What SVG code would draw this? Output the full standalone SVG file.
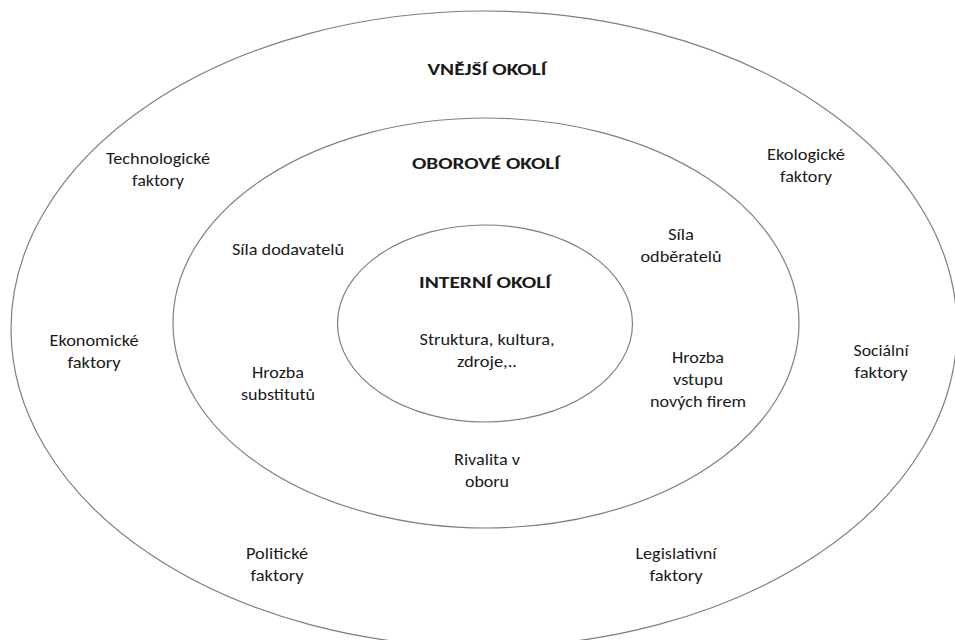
<svg xmlns="http://www.w3.org/2000/svg" width="955" height="640" viewBox="0 0 955 640">
  <style>
    .ring { fill: none; stroke: #7f7f7f; stroke-width: 1.2; }
    text { font-family: Carlito, Lato, "Liberation Sans", sans-serif; font-size: 16px; fill: #1a1a1a; text-anchor: middle; }
    .title { font-weight: bold; font-size: 16.5px; }
  </style>
  <rect width="955" height="640" fill="#ffffff"/>

  <!-- concentric environment rings -->
  <g id="rings">
    <ellipse id="outer-ring" class="ring" cx="484" cy="329" rx="473" ry="318"/>
    <ellipse id="middle-ring" class="ring" cx="486" cy="323" rx="313" ry="205"/>
    <ellipse id="inner-ring" class="ring" cx="485" cy="323.5" rx="147.5" ry="98.5"/>
  </g>

  <!-- outer environment -->
  <g id="vnejsi-okoli"><text class="title" x="487" y="75" textLength="119" lengthAdjust="spacingAndGlyphs">VNĚJŠÍ OKOLÍ</text></g>
  <g id="technologicke">
    <text x="158" y="164" textLength="104" lengthAdjust="spacingAndGlyphs">Technologické</text>
    <text x="158" y="186" textLength="52" lengthAdjust="spacingAndGlyphs">faktory</text>
  </g>
  <g id="ekologicke">
    <text x="806" y="160" textLength="78" lengthAdjust="spacingAndGlyphs">Ekologické</text>
    <text x="806" y="182" textLength="52" lengthAdjust="spacingAndGlyphs">faktory</text>
  </g>
  <g id="ekonomicke">
    <text x="94" y="346" textLength="89" lengthAdjust="spacingAndGlyphs">Ekonomické</text>
    <text x="94" y="368" textLength="53" lengthAdjust="spacingAndGlyphs">faktory</text>
  </g>
  <g id="socialni">
    <text x="881" y="356" textLength="55" lengthAdjust="spacingAndGlyphs">Sociální</text>
    <text x="881" y="378" textLength="53" lengthAdjust="spacingAndGlyphs">faktory</text>
  </g>
  <g id="politicke">
    <text x="277" y="559" textLength="62" lengthAdjust="spacingAndGlyphs">Politické</text>
    <text x="277" y="581" textLength="53" lengthAdjust="spacingAndGlyphs">faktory</text>
  </g>
  <g id="legislativni">
    <text x="676" y="559" textLength="81" lengthAdjust="spacingAndGlyphs">Legislativní</text>
    <text x="676" y="581" textLength="53" lengthAdjust="spacingAndGlyphs">faktory</text>
  </g>

  <!-- industry environment -->
  <g id="oborove-okoli"><text class="title" x="486" y="169" textLength="148" lengthAdjust="spacingAndGlyphs">OBOROVÉ OKOLÍ</text></g>
  <g id="sila-dodavatelu"><text x="288" y="255" textLength="112" lengthAdjust="spacingAndGlyphs">Síla dodavatelů</text></g>
  <g id="sila-odberatelu">
    <text x="681" y="240" textLength="26" lengthAdjust="spacingAndGlyphs">Síla</text>
    <text x="681" y="262" textLength="81" lengthAdjust="spacingAndGlyphs">odběratelů</text>
  </g>
  <g id="hrozba-substitutu">
    <text x="278" y="378" textLength="52" lengthAdjust="spacingAndGlyphs">Hrozba</text>
    <text x="278" y="400" textLength="74" lengthAdjust="spacingAndGlyphs">substitutů</text>
  </g>
  <g id="hrozba-vstupu">
    <text x="698" y="363" textLength="52" lengthAdjust="spacingAndGlyphs">Hrozba</text>
    <text x="698" y="385" textLength="50" lengthAdjust="spacingAndGlyphs">vstupu</text>
    <text x="698" y="407" textLength="96" lengthAdjust="spacingAndGlyphs">nových firem</text>
  </g>
  <g id="rivalita">
    <text x="487" y="465" textLength="66" lengthAdjust="spacingAndGlyphs">Rivalita v</text>
    <text x="487" y="487" textLength="44" lengthAdjust="spacingAndGlyphs">oboru</text>
  </g>

  <!-- internal environment -->
  <g id="interni-okoli"><text class="title" x="485" y="288" textLength="132" lengthAdjust="spacingAndGlyphs">INTERNÍ OKOLÍ</text></g>
  <g id="zdroje">
    <text x="487" y="345" textLength="135" lengthAdjust="spacingAndGlyphs">Struktura, kultura,</text>
    <text x="487" y="367" textLength="60" lengthAdjust="spacingAndGlyphs">zdroje,..</text>
  </g>
</svg>
